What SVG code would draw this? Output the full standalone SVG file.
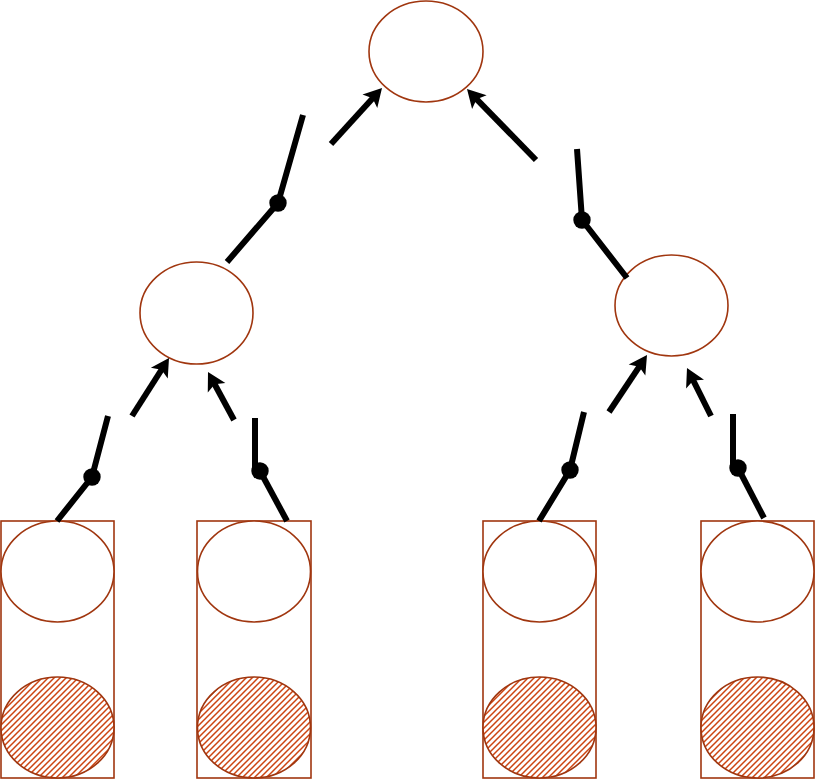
<svg xmlns="http://www.w3.org/2000/svg" width="815" height="780" viewBox="0 0 815 780">
<style>
.node{fill:#ffffff;stroke:#A0360F;stroke-width:1.6}
.box{fill:#ffffff;stroke:#A0360F;stroke-width:1.6}
.hatch{fill:url(#hatch);stroke:#A0360F;stroke-width:1.6}
.edge{fill:none;stroke:#000000;stroke-width:6}
.head{fill:#000000}
.dot{fill:#000000}
</style>
<defs>
<pattern id="hatch" patternUnits="userSpaceOnUse" width="6" height="6">
<rect width="6" height="6" fill="#ffffff"/>
<path d="M-1,1 L1,-1 M0,6 L6,0 M5,7 L7,5" stroke="#CC4411" stroke-width="1.5"/>
</pattern>
<path id="ah" d="M0,0 L-18,-10 L-14,0 L-18,10 Z"/>
</defs>
<rect width="815" height="780" fill="#ffffff"/>
<g id="root"><ellipse class="node" cx="426" cy="51.5" rx="57" ry="50.5"/></g>
<g id="mid-left"><ellipse class="node" cx="196.5" cy="313" rx="56.5" ry="51"/></g>
<g id="mid-right"><ellipse class="node" cx="671.5" cy="305.5" rx="56.5" ry="50.5"/></g>
<g id="leaf-1">
<rect class="box" x="1" y="521" width="113" height="257"/>
<ellipse class="node" cx="57.5" cy="571.5" rx="56.5" ry="50.5"/>
<ellipse class="hatch" cx="57.5" cy="727.5" rx="56.5" ry="50.5"/>
</g>
<g id="leaf-2">
<rect class="box" x="197" y="521" width="114" height="257"/>
<ellipse class="node" cx="254" cy="571.5" rx="56.5" ry="50.5"/>
<ellipse class="hatch" cx="254" cy="727.5" rx="56.5" ry="50.5"/>
</g>
<g id="leaf-3">
<rect class="box" x="483" y="521" width="113" height="257"/>
<ellipse class="node" cx="539.5" cy="571.5" rx="56.5" ry="50.5"/>
<ellipse class="hatch" cx="539.5" cy="727.5" rx="56.5" ry="50.5"/>
</g>
<g id="leaf-4">
<rect class="box" x="701" y="521" width="113" height="257"/>
<ellipse class="node" cx="757.5" cy="571.5" rx="56.5" ry="50.5"/>
<ellipse class="hatch" cx="757.5" cy="727.5" rx="56.5" ry="50.5"/>
</g>
<g id="connectors">
<polyline class="edge" points="227,262 278,203 303,115"/>
<circle class="dot" cx="278" cy="203" r="8.7"/>
<line class="edge" x1="331" y1="144" x2="373.6" y2="97.3"/>
<use href="#ah" class="head" transform="translate(382,88) rotate(-47.68)"/>
<polyline class="edge" points="627,278 582,220 577,149"/>
<circle class="dot" cx="582" cy="220" r="8.7"/>
<line class="edge" x1="536" y1="160" x2="475.6" y2="98.1"/>
<use href="#ah" class="head" transform="translate(467,89) rotate(-133.36)"/>
<polyline class="edge" points="57,521 92,477 108,416"/>
<circle class="dot" cx="92" cy="477" r="8.7"/>
<line class="edge" x1="132" y1="416" x2="162.3" y2="368.5"/>
<use href="#ah" class="head" transform="translate(169,358) rotate(-57.47)"/>
<line class="edge" x1="255" y1="418" x2="255" y2="468"/>
<line class="edge" x1="287" y1="521" x2="260" y2="471"/>
<circle class="dot" cx="260" cy="471" r="8.7"/>
<line class="edge" x1="234" y1="420" x2="214" y2="383"/>
<use href="#ah" class="head" transform="translate(208,372) rotate(-118.44)"/>
<polyline class="edge" points="539,521 570,470 584,412"/>
<circle class="dot" cx="570" cy="470" r="8.7"/>
<line class="edge" x1="609" y1="412" x2="640.1" y2="365.4"/>
<use href="#ah" class="head" transform="translate(647,355) rotate(-56.3)"/>
<line class="edge" x1="733" y1="414" x2="733" y2="465"/>
<line class="edge" x1="764" y1="518" x2="738" y2="468"/>
<circle class="dot" cx="738" cy="468" r="8.7"/>
<line class="edge" x1="711" y1="416" x2="692.6" y2="379.2"/>
<use href="#ah" class="head" transform="translate(687,368) rotate(-116.57)"/>
</g>
</svg>
